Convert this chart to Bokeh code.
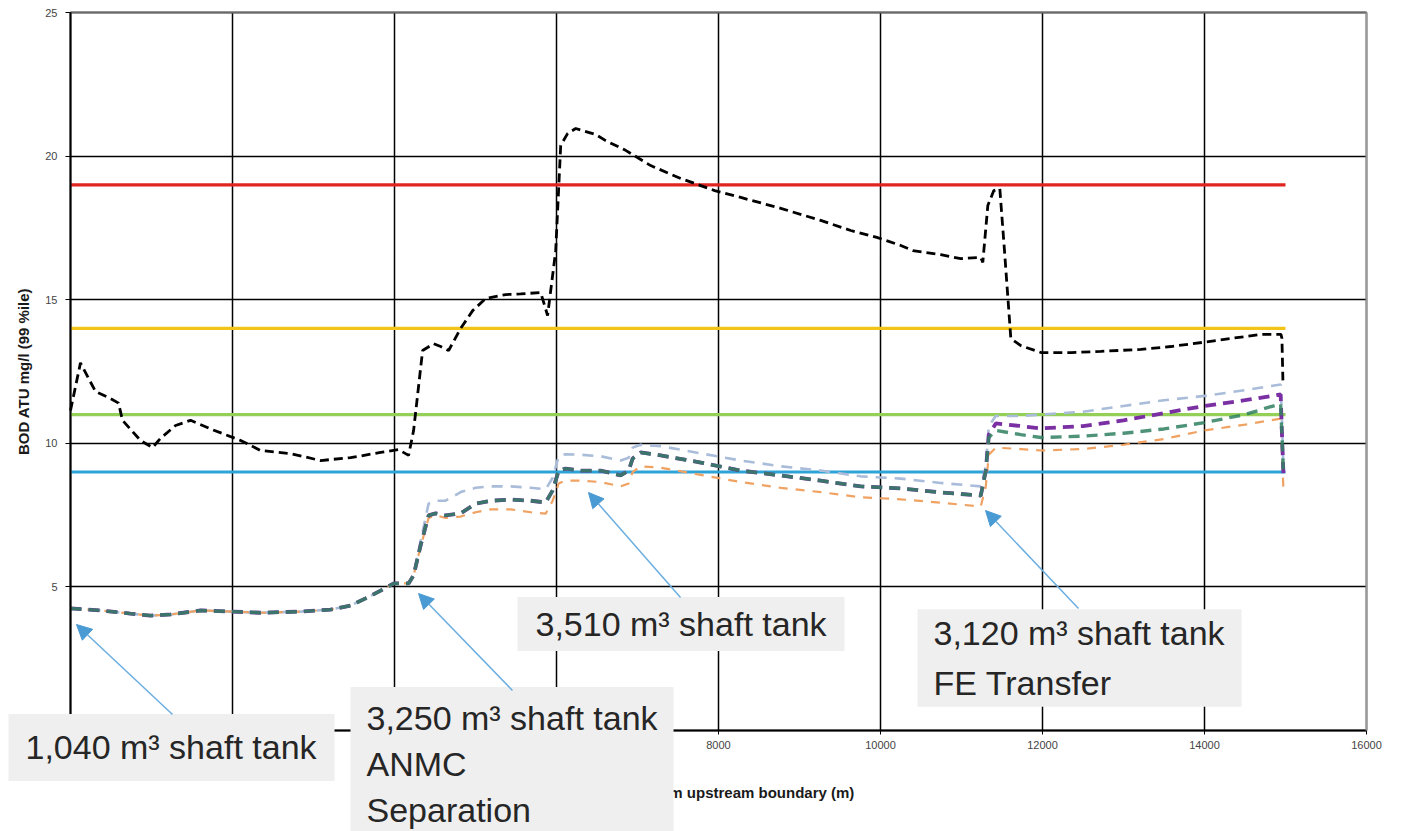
from bokeh.plotting import figure
from bokeh.models import (Range1d, SingleIntervalTicker, FixedTicker, Label, Arrow, NormalHead,
                          BasicTickFormatter, LinearAxis)
from bokeh.embed import file_html
from bokeh.resources import INLINE

# ---- data ----
x_black = [0, 123, 309, 494, 593, 642, 864, 1013, 1111, 1297, 1482, 1729, 2100, 2346, 2717, 3088, 3458, 3829,
           4050, 4174, 4236, 4347, 4483, 4570, 4668, 4817, 4965, 5125, 5372, 5558, 5805, 5890, 5990, 6052, 6138,
           6237, 6484, 6607, 6854, 7163, 7534, 7953, 8275, 8769, 9262, 9633, 9954, 10250, 10398, 10744, 10991,
           11238, 11263, 11325, 11399, 11473, 11535, 11609, 11733, 11980, 12350, 12720, 13215, 13585, 13968,
           14326, 14697, 14944, 14956, 14968]
y_black = [11.14, 12.8, 11.8, 11.56, 11.4, 10.8, 10.1, 9.85, 10.17, 10.62, 10.8, 10.5, 10.1, 9.75, 9.64, 9.4, 9.5,
           9.68, 9.78, 9.58, 10.45, 13.23, 13.47, 13.37, 13.23, 14.0, 14.62, 15.04, 15.18, 15.2, 15.25, 14.45, 16.7,
           20.37, 20.79, 20.96, 20.75, 20.54, 20.2, 19.67, 19.22, 18.8, 18.56, 18.18, 17.76, 17.41, 17.17, 16.89,
           16.71, 16.57, 16.43, 16.47, 16.3, 18.28, 18.8, 18.87, 16.54, 13.65, 13.4, 13.16, 13.16, 13.2, 13.27,
           13.37, 13.51, 13.65, 13.79, 13.79, 13.65, 12.19]

x_low = [0, 370, 741, 988, 1235, 1606, 2000, 2346, 2840, 3211, 3458, 3643, 3829, 3990, 4174, 4236, 4322, 4421,
         4507, 4630, 4817, 5002, 5187, 5434, 5681, 5866, 5953, 6027, 6113, 6299, 6546, 6792, 6891, 6940, 7039,
         7286, 7780, 8275, 8769, 9262, 9756, 10250, 10744, 11238, 11300, 11337, 11423, 11733, 11980, 12500,
         13000, 13500, 14000, 14500, 14940, 14960, 14975]

zone1 = [4.25, 4.18, 4.07, 4.0, 4.04, 4.18, 4.14, 4.1, 4.14, 4.21, 4.35, 4.6, 4.87, 5.12, 5.12, 5.4]

y_green = zone1 + [6.44, 7.49, 7.56, 7.49, 7.56, 7.9, 8.0, 8.04, 8.0, 7.94, 8.36, 9.05, 9.12, 9.05, 9.05, 8.88,
                   9.05, 9.47, 9.68, 9.58, 9.33, 9.05, 8.88, 8.7, 8.5, 8.43, 8.29, 8.18, 9.05, 10.2, 10.45, 10.3,
                   10.2, 10.25, 10.35, 10.5, 10.72, 11.0, 11.38, 10.0, 8.9]
y_purple = zone1 + [6.44, 7.49, 7.56, 7.49, 7.56, 7.9, 8.0, 8.04, 8.0, 7.94, 8.36, 9.05, 9.12, 9.05, 9.05, 8.88,
                    9.05, 9.47, 9.68, 9.58, 9.33, 9.05, 8.88, 8.7, 8.5, 8.43, 8.29, 8.18, 9.05, 10.3, 10.69, 10.6,
                    10.52, 10.6, 10.8, 11.05, 11.3, 11.5, 11.7, 10.0, 8.9]
y_lightblue = zone1 + [6.6, 7.9, 8.0, 8.0, 8.3, 8.45, 8.5, 8.5, 8.45, 8.4, 8.8, 9.55, 9.62, 9.6, 9.55, 9.4, 9.5,
                       9.85, 9.95, 9.9, 9.65, 9.4, 9.2, 9.05, 8.85, 8.77, 8.62, 8.5, 9.2, 10.6, 10.95, 10.95, 11.0,
                       11.1, 11.3, 11.5, 11.65, 11.85, 12.05, 10.5, 9.0]
y_orange = zone1 + [6.4, 7.4, 7.5, 7.4, 7.45, 7.6, 7.7, 7.7, 7.6, 7.55, 8.0, 8.6, 8.7, 8.7, 8.65, 8.5, 8.6, 9.0,
                    9.2, 9.15, 8.9, 8.65, 8.45, 8.3, 8.12, 8.05, 7.93, 7.8, 8.5, 9.6, 9.85, 9.8, 9.75, 9.8, 9.95,
                    10.15, 10.45, 10.65, 10.86, 9.5, 8.3]

std_x = [0, 15000]
std_values = [19, 14, 11, 9]
std_colors = ["#e0241f", "#f2c418", "#94d058", "#2ea3d8"]

x_axis_bounds = (0, 16000)
y_axis_bounds = (0, 25)
x_ticks_interval = 2000
y_ticks_interval = 5

notes = ["1,040 m\u00b3 shaft tank",
         "3,250 m\u00b3 shaft tank\nANMC\nSeparation",
         "3,510 m\u00b3 shaft tank",
         "3,120 m\u00b3 shaft tank\nFE Transfer"]

# ---- layout helpers (page pixels -> data units; frame fills the whole canvas) ----
W, H = 1402, 831
PX0, PX_PER = 70.0, 1296.0 / 16000.0     # x=0 at 70px, 16000 at 1366px
PY0, PY_PER = 730.0, 718.0 / 25.0        # y=0 at 730px, 25 at 12px


def X(px):
    return (px - PX0) / PX_PER


def Y(py):
    return (PY0 - py) / PY_PER


p = figure(width=W, height=H, output_backend="svg", toolbar_location=None,
           x_range=Range1d(X(0), X(W)), y_range=Range1d(Y(H), Y(0)), min_border=0)
p.background_fill_color = "white"
p.border_fill_color = "white"
p.outline_line_color = None

xa = p.below[0]
ya = p.left[0]
xa.fixed_location = 0
ya.fixed_location = 0
xa.bounds = x_axis_bounds
ya.bounds = y_axis_bounds
xa.ticker = SingleIntervalTicker(interval=x_ticks_interval)
ya.ticker = SingleIntervalTicker(interval=y_ticks_interval)
xa.formatter = BasicTickFormatter(use_scientific=False)

for ax in (xa, ya):
    ax.axis_line_color = "black"
    ax.axis_line_width = 2
    ax.major_tick_line_color = "black"
    ax.major_tick_in = 0
    ax.minor_tick_line_color = None
    ax.major_label_text_font = "Liberation Sans"
    ax.major_label_text_font_size = "11px"
    ax.major_label_text_color = "#444444"
    ax.axis_label_text_font = "Liberation Sans"
    ax.axis_label_text_font_style = "bold"
    ax.axis_label_text_font_size = "15px"
    ax.axis_label_text_color = "#1a1a1a"

xa.major_tick_out = 4
xa.major_label_standoff = 6
xa.axis_label = "Distance from upstream boundary (m)"
xa.axis_label_standoff = 32
ya.major_tick_out = 5
ya.major_label_standoff = 8
ya.axis_label = "BOD ATU mg/l (99 %ile)"
ya.axis_label_standoff = 10

# frame edges on the top and right
right_edge = LinearAxis(fixed_location=x_axis_bounds[1], bounds=y_axis_bounds, ticker=FixedTicker(ticks=[]),
                        axis_line_color="#9a9a9a", axis_line_width=2, major_tick_line_color=None,
                        minor_tick_line_color=None)
top_edge = LinearAxis(fixed_location=y_axis_bounds[1], bounds=x_axis_bounds, ticker=FixedTicker(ticks=[]),
                      axis_line_color="#6a6a6a", axis_line_width=2, major_tick_line_color=None,
                      minor_tick_line_color=None)
p.add_layout(right_edge, "right")
p.add_layout(top_edge, "above")

p.xgrid.grid_line_color = "black"
p.xgrid.grid_line_width = 1.5
p.xgrid.cross_bounds = y_axis_bounds
p.ygrid.grid_line_color = "black"
p.ygrid.grid_line_width = 1.5
p.ygrid.cross_bounds = x_axis_bounds

for v, c in zip(std_values, std_colors):
    p.line(std_x, [v, v], line_color=c, line_width=3.2)

p.line(x_black, y_black, line_color="black", line_width=2.8, line_dash="9 5")
p.line(x_low, y_lightblue, line_color="#a9bcd9", line_width=2.6, line_dash="11 8")
p.line(x_low, y_orange, line_color="#f0a262", line_width=2.2, line_dash="9 8")
p.line(x_low, y_purple, line_color="#7a2fa3", line_width=3.8, line_dash="11 7")
p.line(x_low, y_green, line_color="#2f8060", line_width=3.4, line_dash="11 7", line_alpha=0.85)

# ---- annotation boxes (anchor = left edge, vertical centre of the padded box) ----
box_style = dict(text_font="Liberation Sans", text_font_size="34px", text_color="#262626",
                 background_fill_color="#efefef", background_fill_alpha=1.0,
                 text_align="left", text_baseline="middle")
# padding = (left, right, top, bottom)
p.add_layout(Label(x=X(8), y=Y(747), text=notes[0], padding=(17, 18, 14, 15),
                   text_line_height=1.2, **box_style))
p.add_layout(Label(x=X(350), y=Y(763.5), text=notes[1], padding=(16, 16, 12, 12),
                   text_line_height=1.21, **box_style))
p.add_layout(Label(x=X(517), y=Y(623.5), text=notes[2], padding=(18, 18, 8, 8),
                   text_line_height=1.2, **box_style))
p.add_layout(Label(x=X(917), y=Y(657.5), text=notes[3], padding=(16, 17, 5, 5),
                   text_line_height=1.3, **box_style))

arrow_style = dict(line_color="#6aaee0", line_width=1.5)
for (sx, sy, ex, ey) in [(172, 714, 76, 624), (512, 690, 418, 593), (680, 597, 588, 492), (1078, 608, 985, 510)]:
    p.add_layout(Arrow(end=NormalHead(size=15, fill_color="#4a9ad4", line_color="#4a9ad4"),
                       x_start=X(sx), y_start=Y(sy), x_end=X(ex), y_end=Y(ey), **arrow_style))

open("out.html", "w").write(file_html(p, INLINE))
